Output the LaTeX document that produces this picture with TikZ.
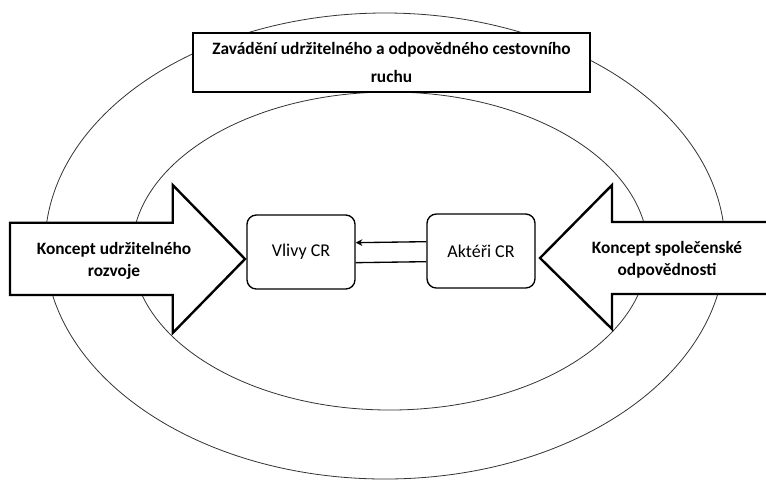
\documentclass[tikz,border=0pt]{standalone}
\usepackage{fontspec}
\setmainfont{Carlito}
\usetikzlibrary{arrows.meta}
\tikzset{
  ring/.style={draw=black!80, line width=0.6pt},
  titlebox/.style={draw, fill=white, line width=0.8pt, minimum width=297.75pt,
    minimum height=44.25pt, align=center, font=\bfseries\fontsize{13}{21}\selectfont},
  crbox/.style={draw, fill=white, rounded corners=7pt, line width=1pt,
    minimum width=81pt, minimum height=55.5pt, font=\fontsize{13.5}{15}\selectfont},
  bigarrow/.style={draw, fill=white, line width=1.8pt, line join=miter},
  arrowtext/.style={align=center, font=\bfseries\fontsize{13}{16.5}\selectfont},
}

\begin{document}
\begin{tikzpicture}[x=0.75pt, y=-0.75pt]
    \useasboundingbox (0,0) rectangle (766,480);
    % the two rings
    \draw[ring] (385,246) ellipse [x radius=255pt, y radius=174.75pt];
    \draw[ring] (390,251) ellipse [x radius=193.5pt, y radius=119.25pt];
    \node[titlebox] (zavadeni) at (391.5,62.5) {Zavádění udržitelného a odpovědného cestovního\\ruchu};
    % big arrows
    \draw[bigarrow] (10,222.7) -- (172.7,222.7) -- (172.7,185) -- (245,259)
        -- (172.7,333) -- (172.7,295) -- (10,295) -- cycle;
    \draw[bigarrow] (766,222) -- (612,222) -- (612,185) -- (540,258)
        -- (612,329) -- (612,294) -- (766,294);
    \node[arrowtext] (rozvoj) at (114,261) {Koncept udržitelného\\rozvoje};
    \node[arrowtext] (odpov) at (667,260) {Koncept společenské\\odpovědnosti};
    % inner boxes
    \node[crbox] (vlivy) at (301,252) {Vlivy CR};
    \node[crbox] (akteri) at (481,251) {Aktéři CR};
    \draw[line width=1pt, -{Stealth[length=5pt, width=5pt]}] ([yshift=7pt]akteri.west) -- ([yshift=7pt]vlivy.east);
    \draw[line width=1pt] ([yshift=-8pt]vlivy.east) -- ([yshift=-8pt]akteri.west);
\end{tikzpicture}
\end{document}
